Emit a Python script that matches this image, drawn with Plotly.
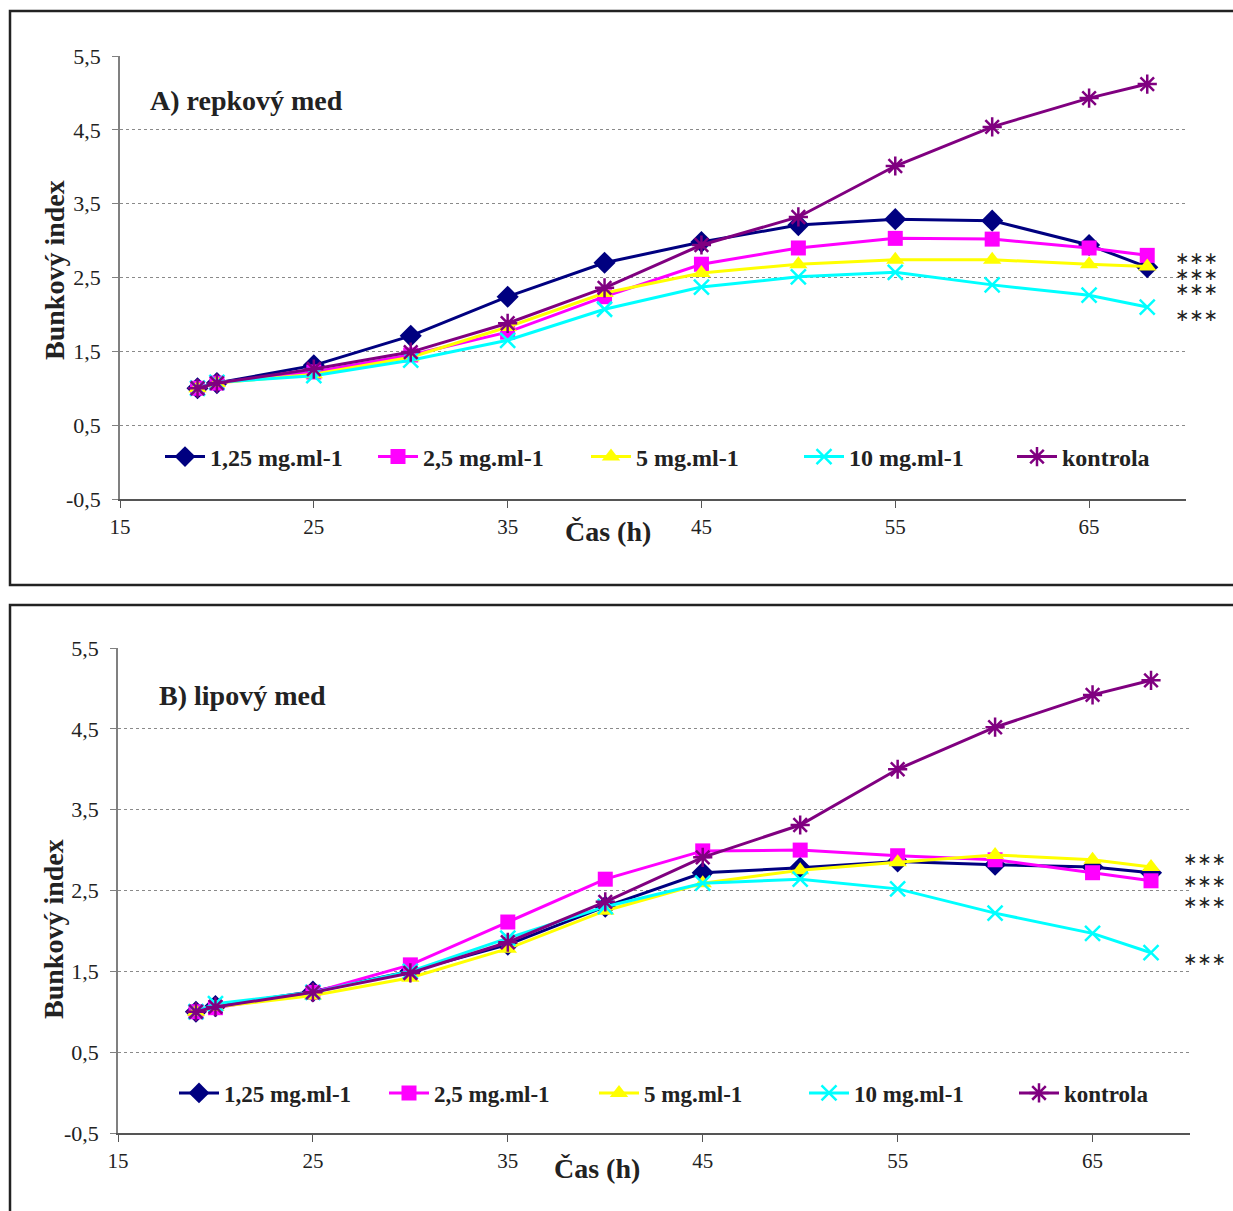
import plotly.graph_objects as go

W, H = 1233, 1211

# ---------------- data ----------------
time_h = [19, 20, 25, 30, 35, 40, 45, 50, 55, 60, 65, 68]
series_names = ["1,25 mg.ml-1", "2,5 mg.ml-1", "5 mg.ml-1", "10 mg.ml-1", "kontrola"]

# A) repkový med
a_125 = [1.00, 1.07, 1.31, 1.71, 2.24, 2.70, 2.98, 3.21, 3.29, 3.27, 2.94, 2.64]
a_25 = [1.00, 1.07, 1.22, 1.45, 1.76, 2.24, 2.68, 2.90, 3.03, 3.02, 2.90, 2.80]
a_5 = [1.00, 1.07, 1.19, 1.42, 1.83, 2.29, 2.56, 2.68, 2.74, 2.74, 2.68, 2.65]
a_10 = [1.00, 1.08, 1.17, 1.38, 1.65, 2.07, 2.37, 2.51, 2.57, 2.40, 2.26, 2.10]
a_kon = [1.00, 1.07, 1.26, 1.49, 1.88, 2.36, 2.94, 3.32, 4.01, 4.54, 4.93, 5.12]

# B) lipový med
b_125 = [1.00, 1.07, 1.25, 1.50, 1.83, 2.30, 2.72, 2.78, 2.86, 2.82, 2.79, 2.72]
b_25 = [1.00, 1.05, 1.24, 1.58, 2.11, 2.64, 2.99, 3.00, 2.93, 2.88, 2.72, 2.62]
b_5 = [1.00, 1.06, 1.20, 1.42, 1.78, 2.25, 2.59, 2.75, 2.85, 2.94, 2.88, 2.79]
b_10 = [1.00, 1.10, 1.24, 1.50, 1.91, 2.30, 2.59, 2.64, 2.52, 2.22, 1.97, 1.73]
b_kon = [1.00, 1.06, 1.24, 1.48, 1.86, 2.36, 2.91, 3.31, 4.00, 4.52, 4.92, 5.10]

y_ticks = [-0.5, 0.5, 1.5, 2.5, 3.5, 4.5, 5.5]
y_tick_text = ["-0,5", "0,5", "1,5", "2,5", "3,5", "4,5", "5,5"]
x_ticks = [15, 25, 35, 45, 55, 65]

# significance marks (y level of each "***")
a_sig_y = [2.76, 2.55, 2.34, 1.99]
b_sig_y = [2.89, 2.62, 2.36, 1.65]

# ---------------- styles ----------------
colors = ["#000080", "#FF00FF", "#FFFF00", "#00FFFF", "#800080"]
symbols = ["diamond", "square", "triangle-up", "x-thin-open", "asterisk-open"]
msizes = [17, 15, 16, 15, 16]
FONT = "Liberation Serif"
TXT = "#222222"

def px2py(py):
    return 1 - py / H

fig = go.Figure()

panels = [
    (["x", "y"], [a_125, a_25, a_5, a_10, a_kon], "legend"),
    (["x2", "y2"], [b_125, b_25, b_5, b_10, b_kon], "legend2"),
]
for (xa, ya), data, leg in panels:
    for name, vals, c, s, ms in zip(series_names, data, colors, symbols, msizes):
        fig.add_trace(go.Scatter(
            x=time_h, y=vals, mode="lines+markers", name=name,
            xaxis=xa, yaxis=ya, legend=leg,
            line=dict(color=c, width=3),
            marker=dict(symbol=s, size=ms, color=c,
                        line=dict(color=c, width=2.5 if "open" in s else 0)),
            cliponaxis=False,
        ))

def yax(domain, anchor):
    return dict(domain=domain, anchor=anchor, range=[-0.5, 5.5], tickvals=y_ticks,
                ticktext=y_tick_text, automargin=False,
                showgrid=True, gridcolor="#8a8a8a", griddash="dot", gridwidth=1,
                showline=True, linecolor="#808080", linewidth=1.5,
                ticks="outside", ticklen=6, tickcolor="#808080",
                tickfont=dict(family=FONT, size=22, color=TXT),
                ticklabelstandoff=7, zeroline=False, fixedrange=True)

def xax(domain, anchor):
    return dict(domain=domain, anchor=anchor, range=[15, 70], tickvals=x_ticks,
                automargin=False, showgrid=False, showline=True,
                linecolor="#555555", linewidth=2,
                ticks="outside", ticklen=7, tickcolor="#555555",
                tickfont=dict(family=FONT, size=21, color=TXT),
                ticklabelstandoff=1, zeroline=False, fixedrange=True)

legA = dict(orientation="h", x=160 / W, y=px2py(457), xanchor="left", yanchor="middle",
            font=dict(family=FONT, size=24, color=TXT, weight="bold"),
            bgcolor="rgba(0,0,0,0)", itemwidth=40, tracegroupgap=0,
            entrywidth=158, entrywidthmode="pixels")
legB = dict(orientation="h", x=174 / W, y=px2py(1093), xanchor="left", yanchor="middle",
            font=dict(family=FONT, size=23, color=TXT, weight="bold"),
            bgcolor="rgba(0,0,0,0)", itemwidth=40, tracegroupgap=0,
            entrywidth=155, entrywidthmode="pixels")

ann = []
for txt, x, y in [("A) repkový med", 148, 100), ("B) lipový med", 157, 695)]:
    ann.append(dict(text="<b>%s</b>" % txt, x=x / W, y=px2py(y),
                    xref="paper", yref="paper", xanchor="left", yanchor="middle",
                    showarrow=False, font=dict(family=FONT, size=28, color=TXT)))
# axis titles
for txt, x, y, ang in [("Bunkový index", 54, 270, -90), ("Čas (h)", 608, 531, 0),
                       ("Bunkový index", 53, 929, -90), ("Čas (h)", 597, 1168, 0)]:
    ann.append(dict(text="<b>%s</b>" % txt, x=x / W, y=px2py(y), xref="paper", yref="paper",
                    xanchor="center", yanchor="middle", textangle=ang, showarrow=False,
                    font=dict(family=FONT, size=28, color=TXT)))
# significance marks
for sy in a_sig_y:
    ann.append(dict(text="∗∗∗", x=1196 / W, y=sy, xref="paper", yref="y", showarrow=False,
                    xanchor="center", yanchor="middle",
                    font=dict(family="DejaVu Sans", size=17, color=TXT)))
for sy in b_sig_y:
    ann.append(dict(text="∗∗∗", x=1204 / W, y=sy, xref="paper", yref="y2", showarrow=False,
                    xanchor="center", yanchor="middle",
                    font=dict(family="DejaVu Sans", size=17, color=TXT)))

shapes = [
    dict(type="rect", xref="paper", yref="paper", x0=10 / W, x1=1.05,
         y0=px2py(585), y1=px2py(11), line=dict(color="#222222", width=2.5)),
    dict(type="rect", xref="paper", yref="paper", x0=10 / W, x1=1.05,
         y0=-0.05, y1=px2py(605), line=dict(color="#222222", width=2.5)),
]

fig.update_layout(
    template="none",
    width=W, height=H, margin=dict(l=0, r=0, t=0, b=0, pad=0, autoexpand=False),
    paper_bgcolor="white", plot_bgcolor="white",
    xaxis=xax([120 / W, 1186 / W], "y"), yaxis=yax([px2py(499), px2py(56)], "x"),
    xaxis2=xax([118 / W, 1190 / W], "y2"), yaxis2=yax([px2py(1133), px2py(648)], "x2"),
    legend=legA, legend2=legB,
    annotations=ann, shapes=shapes, showlegend=True,
    font=dict(family=FONT, color=TXT),
)

fig.write_html("out.html")
